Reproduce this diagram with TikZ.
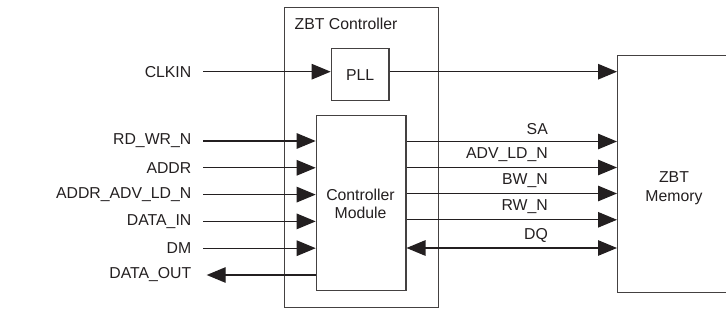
\documentclass[tikz,border=0pt]{standalone}
\usepackage{fontspec}
\setmainfont{Liberation Sans}
\usetikzlibrary{arrows.meta}
\definecolor{ink}{HTML}{231F20}
\tikzset{
  box/.style={draw=ink!85, line width=1.2pt, fill=none, inner sep=0pt},
  sig/.style={draw=ink, line width=1.2pt, -{Triangle[length=19pt,width=15.5pt]}},
  bisig/.style={draw=ink, line width=1.2pt, {Triangle[length=19pt,width=15.5pt]}-{Triangle[length=19pt,width=15.5pt]}},
  lbl/.style={text=ink, inner sep=0pt, font=\fontsize{15.8}{18.5}\selectfont},
}
\begin{document}
\begin{tikzpicture}[x=1pt,y=-1pt]
\useasboundingbox (0,0) rectangle (726,328);
% boxes
\node[box, minimum width=154pt, minimum height=300pt, anchor=north west] (ctrl) at (284,7.3) {};
\node[lbl, anchor=west] (ctrltitle) at (294.5,23.5) {ZBT Controller};
\node[box, minimum width=57.6pt, minimum height=51.7pt, anchor=north west, lbl, draw=ink!85] (pll) at (330.7,48.3) {PLL};
\node[box, minimum width=89.6pt, minimum height=175pt, anchor=north west] (cm) at (315.7,115) {};
\node[lbl, align=center] (cmtext) at (360.5,204) {Controller\\Module};
\node[box, minimum width=114pt, minimum height=237pt, anchor=north west] (mem) at (617,55) {};
\node[lbl, align=center] (memtext) at (674,188) {ZBT\\Memory};
% left labels and coordinates
\node[lbl, anchor=east] (clkin) at (191.5,72) {CLKIN};
\coordinate (clkinS) at (203.3,71.7);
\foreach \n/\t/\y in {rdwr/RD\_WR\_N/141, addr/ADDR/167.8, aald/ADDR\_ADV\_LD\_N/194.6, din/DATA\_IN/221.4, dm/DM/248.2, dout/DATA\_OUT/275}{
  \node[lbl, anchor=east] (\n) at (191.5,\y) {\t};
  \coordinate (\n S) at (203.3,\y);
  \coordinate (\n E) at (cm.west |- 0,\y);
}
\draw[sig] (clkinS) -- (pll.west |- clkinS);
\draw[sig] (pll.east |- clkinS) -- (mem.west |- clkinS);
\foreach \n in {rdwr, addr, aald, din, dm}{
  \draw[sig] (\n S) -- (\n E);
}
\coordinate (doutT) at (206.7,275);
\draw[sig] (doutE) -- (doutT);
% outputs
\foreach \n/\t/\y in {sa/SA/141.5, adv/ADV\_LD\_N/167.5, bw/BW\_N/193.5, rw/RW\_N/219.8}{
  \coordinate (\n A) at (cm.east |- 0,\y);
  \coordinate (\n B) at (mem.west |- 0,\y);
  \draw[sig] (\n A) -- (\n B);
  \node[lbl, anchor=east] (\n L) at (548,\y-12.8) {\t};
}
\coordinate (dqA) at (cm.east |- 0,248);
\coordinate (dqB) at (mem.west |- 0,248);
\draw[bisig] (dqA) -- (dqB);
\node[lbl, anchor=east] (dqL) at (548,235.2) {DQ};
\end{tikzpicture}
\end{document}
